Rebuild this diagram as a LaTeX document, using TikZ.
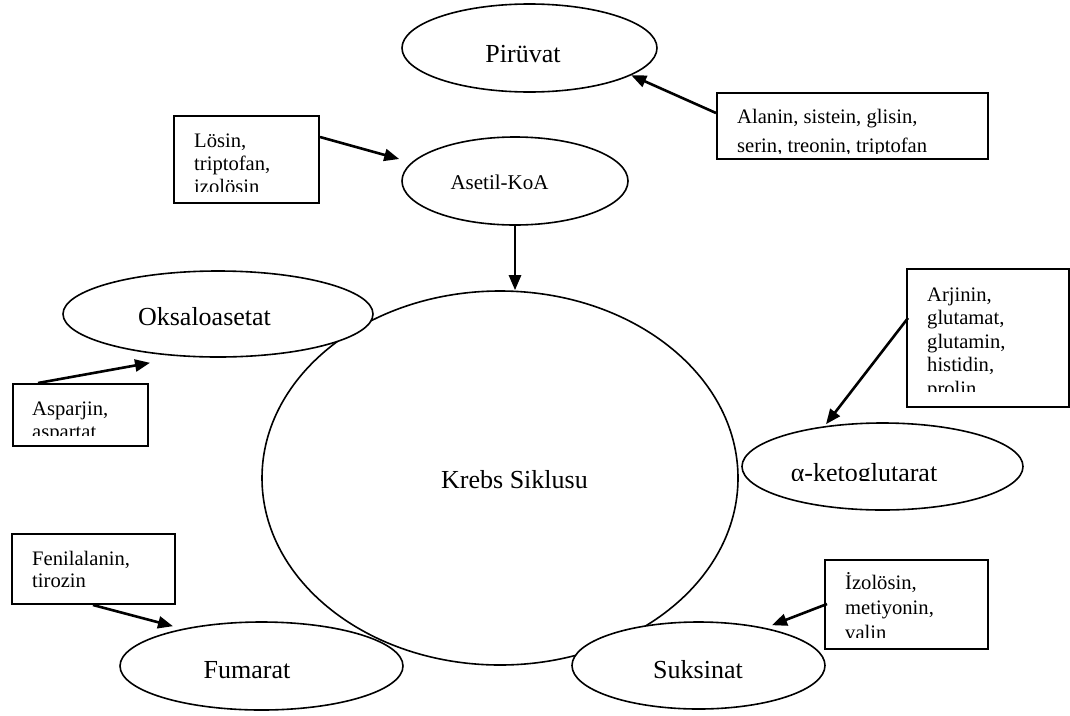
\documentclass[tikz,border=0pt]{standalone}
\usepackage{fontspec}
\setmainfont{Liberation Serif}
\usetikzlibrary{arrows.meta,calc,shapes.geometric}
\begin{document}
\begin{tikzpicture}[x=1pt,y=-1pt,
 ell/.style={draw,ellipse,line width=1.6pt,fill=white,inner sep=0pt},
 bx/.style={draw,rectangle,line width=2pt,anchor=north west,inner sep=0pt,fill=white},
 lbl/.style={anchor=base,inner sep=0pt,font=\fontsize{26}{30}\selectfont},
 btxt/.style={anchor=base west,inner sep=0pt,font=\fontsize{20.6}{23}\selectfont},
 arr/.style={line width=2.6pt,-{Triangle[length=15pt,width=12pt]}}]
\fill[white] (0,0) rectangle (1070,715);
\useasboundingbox (0,0) rectangle (1070,715);

% ellipses
\node[ell,minimum width=476pt,minimum height=374pt] (krebs) at (500,478) {};
\node[ell,minimum width=255pt,minimum height=88pt] (piruvat) at (529.5,48) {};
\node[ell,minimum width=226pt,minimum height=88pt] (asetil) at (515,181) {};
\node[ell,minimum width=310pt,minimum height=86pt] (oksa) at (218,314) {};
\node[ell,minimum width=281pt,minimum height=87pt] (alfa) at (882.5,466.5) {};
\node[ell,minimum width=283pt,minimum height=88pt] (fumarat) at (261.5,666) {};
\node[ell,minimum width=253pt,minimum height=87pt] (suks) at (698.5,665.5) {};

% ellipse labels
\node[lbl] (tkrebs) at (514.5,488) {Krebs Siklusu};
\node[lbl] (tpir) at (523,62) {Pirüvat};
\node[lbl,font=\fontsize{21}{25}\selectfont] (tase) at (499.5,189) {Asetil-KoA};
\node[lbl] (toksa) at (204.5,325) {Oksaloasetat};
\node[lbl] (tfum) at (247,678) {Fumarat};
\node[lbl] (tsuks) at (698,678) {Suksinat};
\begin{scope}
\clip (alfa.west |- alfa.north) rectangle ($(alfa.east)+(0,13.5)$);
\node[lbl] (talfa) at (864,481) {α-ketoglutarat};
\end{scope}

% boxes
\node[bx,minimum width=145pt,minimum height=87pt] (losin) at (173,115) {};
\node[bx,minimum width=271pt,minimum height=66pt] (alanin) at (716,92) {};
\node[bx,minimum width=135pt,minimum height=62pt] (asparjin) at (12,383) {};
\node[bx,minimum width=162pt,minimum height=138pt] (arjinin) at (906,268) {};
\node[bx,minimum width=163pt,minimum height=70pt] (fenil) at (11,533) {};
\node[bx,minimum width=163pt,minimum height=89pt] (izol) at (824,559) {};

% box texts (clipped like the original text boxes)
\begin{scope}
\clip (losin.north west) rectangle ($(losin.north east)+(0,76)$);
\node[btxt] (tlosin) at (194,147) {\vtop{\baselineskip=23pt\hbox{Lösin,}\hbox{triptofan,}\hbox{izolösin}}};
\end{scope}
\begin{scope}
\clip (alanin.north west) rectangle ($(alanin.north east)+(0,61)$);
\node[btxt] (talanin) at (737,123) {\vtop{\baselineskip=29pt\hbox{Alanin, sistein, glisin,}\hbox{serin, treonin, triptofan}}};
\end{scope}
\begin{scope}
\clip (asparjin.north west) rectangle ($(asparjin.north east)+(0,52)$);
\node[btxt] (tasparjin) at (32,415) {\vtop{\baselineskip=23.5pt\hbox{Asparjin,}\hbox{aspartat}}};
\end{scope}
\begin{scope}
\clip (arjinin.north west) rectangle ($(arjinin.north east)+(0,123)$);
\node[btxt] (tarjinin) at (927,301) {\vtop{\baselineskip=23.5pt\hbox{Arjinin,}\hbox{glutamat,}\hbox{glutamin,}\hbox{histidin,}\hbox{prolin}}};
\end{scope}
\node[btxt] (tfenil) at (32,565) {\vtop{\baselineskip=22pt\hbox{Fenilalanin,}\hbox{tirozin}}};
\begin{scope}
\clip (izol.north west) rectangle ($(izol.north east)+(0,78)$);
\node[btxt] (tizol) at (845,589) {\vtop{\baselineskip=25pt\hbox{İzolösin,}\hbox{metiyonin,}\hbox{valin}}};
\end{scope}

% arrows
\draw[arr] ($(alanin.north west)+(0,21)$) -- (piruvat.-15);
\draw[arr] ($(losin.north east)+(0,22)$) -- ($(asetil.west)+(-2,-22)$);
\draw[arr] (asetil.south) -- (asetil.south |- krebs.north);
\draw[arr] ($(asparjin.north west)+(26,0)$) -- ($(oksa.south)+(-68,5)$);
\draw[arr] ($(arjinin.north west)+(2,50)$) -- ($(alfa.north)+(-56.5,2)$);
\draw[arr] ($(fenil.south west)+(82,0)$) -- ($(fumarat.north)+(-88.5,5)$);
\draw[arr] ($(izol.north west)+(3,45)$) -- ($(suks.north)+(73.5,4)$);
\end{tikzpicture}
\end{document}
